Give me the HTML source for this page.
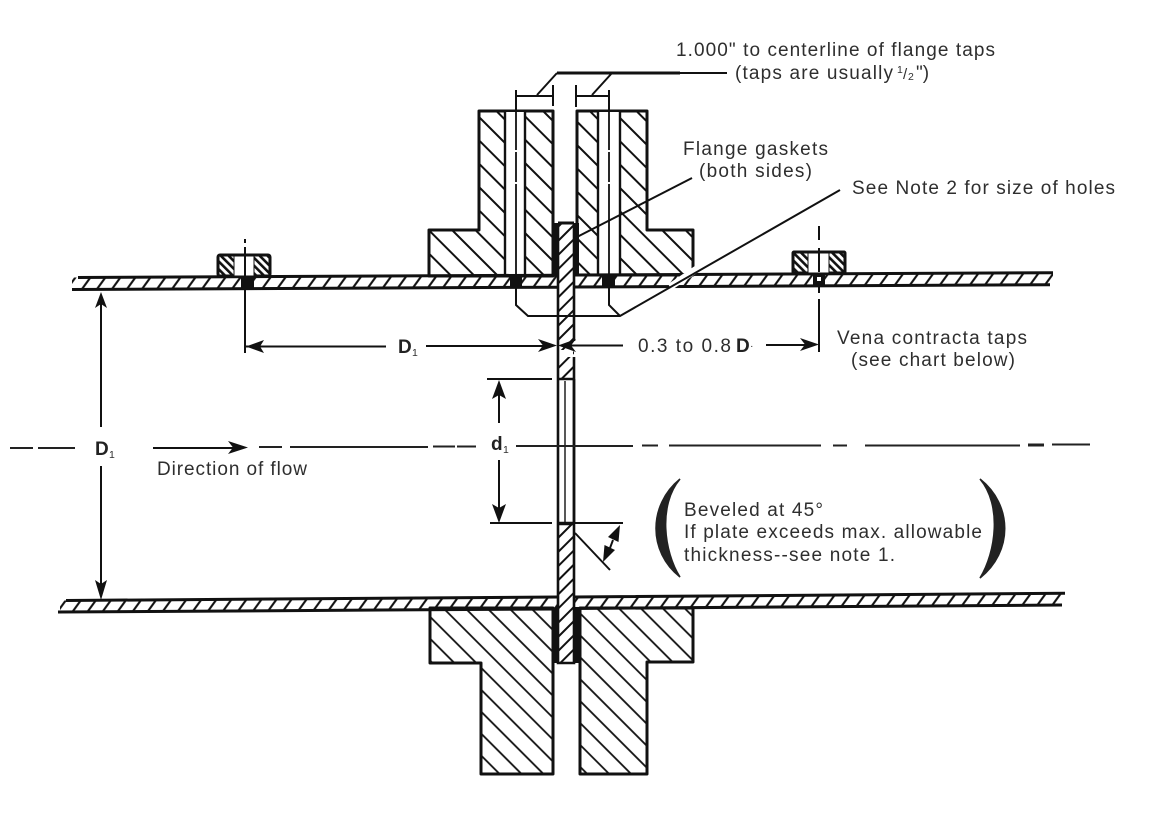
<!DOCTYPE html>
<html><head><meta charset="utf-8"><style>
html,body{margin:0;padding:0;background:#fff;width:1149px;height:814px;overflow:hidden}
svg{display:block}
text{font-family:"Liberation Sans",sans-serif;font-size:19px;fill:#2e2e2e}
.b{font-weight:bold;fill:#222}
.s{font-size:10.5px}
</style></head><body>
<svg width="1149" height="814" viewBox="0 0 1149 814" xmlns="http://www.w3.org/2000/svg">
<defs>
<pattern id="h1" patternUnits="userSpaceOnUse" width="16.5" height="16.5" patternTransform="rotate(45) translate(3 0)"><line x1="0" y1="8" x2="17" y2="8" stroke="#111" stroke-width="1.9"/></pattern>
<pattern id="h2" patternUnits="userSpaceOnUse" width="15.5" height="15.5" patternTransform="rotate(45)"><line x1="0" y1="8" x2="16" y2="8" stroke="#111" stroke-width="1.8"/></pattern>
<pattern id="h3" patternUnits="userSpaceOnUse" width="5.5" height="5.5" patternTransform="rotate(45)"><line x1="0" y1="2.7" x2="6" y2="2.7" stroke="#111" stroke-width="2.6"/></pattern>
<pattern id="p" patternUnits="userSpaceOnUse" width="15" height="20" patternTransform="skewX(-36)"><line x1="7" y1="0" x2="7" y2="20" stroke="#111" stroke-width="2.6"/></pattern>
<pattern id="q" patternUnits="userSpaceOnUse" width="10" height="10" patternTransform="rotate(-45)"><line x1="0" y1="5" x2="10" y2="5" stroke="#111" stroke-width="2"/></pattern>
</defs>

<!-- top flange -->
<path d="M479 111H553V276H429V230H479Z" fill="url(#h1)" stroke="#111" stroke-width="3" stroke-linejoin="round"/>
<path d="M577 111H647V230H693V275H577Z" fill="url(#h1)" stroke="#111" stroke-width="3" stroke-linejoin="round"/>
<rect x="505" y="112" width="20" height="163" fill="#fff"/>
<rect x="598" y="112" width="22" height="163" fill="#fff"/>
<g stroke="#111" stroke-width="2.4" fill="none">
<path d="M505 111V275M525 111V275M598 111V275M620 111V275"/>
</g>
<g stroke="#111" stroke-width="1.8" fill="none">
<path d="M516 111V150M516 152V182M516 184V275M609 111V150M609 152V182M609 184V275"/>
</g>

<!-- bottom flange -->
<path d="M430 608H553V774H481V663H430Z" fill="url(#h2)" stroke="#111" stroke-width="3" stroke-linejoin="round"/>
<path d="M580 608H693V662H647V774H580Z" fill="url(#h2)" stroke="#111" stroke-width="3" stroke-linejoin="round"/>

<!-- pipes -->
<polygon points="72,277.5 558,275.2 558,287.2 72,289.5" fill="url(#p)"/>
<polygon points="574,275 1053,272.7 1053,284.7 574,287" fill="url(#p)"/>
<polygon points="60,600.5 558,597 558,609 60,612" fill="url(#p)"/>
<polygon points="574,597 1065,593.3 1065,605 574,608.5" fill="url(#p)"/>
<g stroke="#111" stroke-width="3" fill="none">
<path d="M78 277.5L558 275.2M72 289.5L558 287.2"/>
<path d="M574 275L1053 272.7M574 287L1050 284.7"/>
<path d="M66 600.5L558 597M58 612L558 609"/>
<path d="M574 597L1065 593.3M574 608.5L1062 605"/>
</g>
<!-- pipe tap spots -->
<g fill="#111">
<rect x="510" y="276" width="12" height="11"/>
<rect x="602" y="276" width="13" height="11"/>
<rect x="241" y="277" width="13" height="12"/>
<rect x="813" y="274" width="12" height="11"/>
</g>
<rect x="817" y="277" width="4" height="4" fill="#fff"/>

<!-- taps -->
<rect x="218" y="255" width="52" height="21" rx="2" fill="url(#h3)" stroke="#111" stroke-width="3"/>
<rect x="234" y="256" width="20" height="20" fill="#fff" stroke="#111" stroke-width="1"/>
<rect x="793" y="252" width="52" height="21" rx="1" fill="url(#h3)" stroke="#111" stroke-width="3"/>
<rect x="808" y="253" width="21" height="20" fill="#fff" stroke="#111" stroke-width="1"/>
<g stroke="#111" stroke-width="2" fill="none">
<path d="M245 239V243M245 247V276M245 288V353"/>
<path d="M819 226V240M819 248V272M819 285V293M819 299V352"/>
</g>

<!-- plate -->
<rect x="558" y="223" width="16" height="156" fill="#fff"/>
<rect x="558" y="223" width="16" height="156" fill="url(#q)"/>
<rect x="558" y="523" width="16" height="140" fill="#fff"/>
<rect x="558" y="523" width="16" height="140" fill="url(#q)"/>
<rect x="559" y="350" width="14" height="7" fill="#fff"/>
<rect x="559" y="379" width="14" height="144" fill="#fff"/>
<g stroke="#111" fill="none">
<path d="M558 223H574" stroke-width="3"/>
<path d="M558 223V663H574V357M574 341V223" stroke-width="2.6"/>
<path d="M574 379V523M558 379H574" stroke-width="2.6"/>
<path d="M558 523.5H574" stroke-width="3.5"/>
<path d="M565 381V522" stroke-width="1.4"/>
</g>
<!-- gaskets -->
<g fill="#111">
<rect x="553" y="223" width="5" height="53"/>
<rect x="573" y="223" width="6" height="53"/>
<rect x="552" y="608" width="6" height="55"/>
<rect x="573" y="608" width="8" height="55"/>
</g>

<!-- top dimension -->
<g stroke="#111" fill="none">
<path d="M557 73H680" stroke-width="3"/>
<path d="M680 73H727" stroke-width="2"/>
<path d="M557 73L537 95M612 73L592 95" stroke-width="2"/>
<path d="M516 96H553M576 96H609" stroke-width="2"/>
<path d="M516 90V111M553 85V106M576 85V107M609 90V111" stroke-width="2"/>
</g>

<!-- leaders -->
<path d="M670 287L704 264" stroke="#fff" stroke-width="7" fill="none"/>
<g stroke="#111" stroke-width="2" fill="none">
<path d="M575 238L692 178"/>
<path d="M516 287V305L528 316H620L840 190M609 287V305L620 316"/>
</g>

<!-- dimension lines -->
<g stroke="#111" stroke-width="2" fill="none">
<path d="M245 346.5H386M426 346H545M568 345.5H623M766 345H805"/>
<path d="M101 300V427M101 466V588"/>
<path d="M487 379H552M490 523H552M573 523H623"/>
<path d="M499 392V423M499 460V510"/>
<path d="M575 533L610 570"/>
<path d="M613 540L610 548"/>
<path d="M153 448H235"/>
</g>
<!-- centre line -->
<g stroke="#222" stroke-width="2" fill="none">
<path d="M10 448H33M38 448H75"/>
<path d="M259 447H282M290 447H428M433 446.5H455M457 446.5H476"/>
<path d="M516 446H633M642 445.5H658M669 445.5H821M833 445.5H847M865 445.5H1020"/>
<path d="M1028 445H1044" stroke-width="3"/>
<path d="M1052 444.5H1090"/>
</g>

<!-- arrowheads -->
<g fill="#111">
<polygon points="246,346.5 264,340 260,346.5 264,353"/>
<polygon points="557,345.5 538,339 543,345.5 538,352"/>
<polygon points="558,345.5 576,339 571,345.5 576,352"/>
<polygon points="819,344.5 800,338 805,344.5 800,351"/>
<polygon points="101,292 107,308 101,304 95,308"/>
<polygon points="101,600 107,580 101,584 95,580"/>
<polygon points="499,380 506,399 499,395 492,399"/>
<polygon points="499,523 506,504 499,508 492,504"/>
<polygon points="248,447.5 228,441 233,447.5 228,454"/>
<polygon points="620,525 618.5,542 608,537"/>
<polygon points="603,562 615,550 604.5,545"/>
</g>

<!-- parens -->
<path d="M680 479C648 505 648 552 680 577C664 552 658 505 680 479Z" fill="#222" stroke="#222" stroke-width="1.5"/>
<path d="M980 479C1013 505 1013 552 980 578C996 552 1002 505 980 479Z" fill="#222" stroke="#222" stroke-width="1.5"/>

<!-- labels -->
<text x="676" y="56" textLength="319" lengthAdjust="spacing">1.000" to centerline of flange taps</text>
<text x="735" y="79" textLength="158" lengthAdjust="spacing">(taps are usually</text>
<text x="897" y="73" class="s">1</text>
<text x="903" y="79" style="font-size:15px">/</text>
<text x="908" y="80" class="s">2</text>
<text x="916" y="79">")</text>
<text x="683" y="155" textLength="145" lengthAdjust="spacing">Flange gaskets</text>
<text x="699" y="177" textLength="113" lengthAdjust="spacing">(both sides)</text>
<text x="852" y="194" textLength="263" lengthAdjust="spacing">See Note 2 for size of holes</text>
<text x="837" y="344" textLength="190" lengthAdjust="spacing">Vena contracta taps</text>
<text x="851" y="366" textLength="164" lengthAdjust="spacing">(see chart below)</text>
<text x="684" y="516" textLength="139" lengthAdjust="spacing">Beveled at 45°</text>
<text x="684" y="538" textLength="298" lengthAdjust="spacing">If plate exceeds max. allowable</text>
<text x="684" y="561" textLength="211" lengthAdjust="spacing">thickness--see note 1.</text>
<text x="157" y="475" textLength="150" lengthAdjust="spacing">Direction of flow</text>
<text x="638" y="352" textLength="93" lengthAdjust="spacing">0.3 to 0.8</text>
<text x="736" y="352" class="b">D</text>
<text x="750" y="349" class="s">·</text>
<text x="398" y="353" class="b">D</text><text x="412" y="356" class="s">1</text>
<text x="95" y="455" class="b">D</text><text x="109" y="458" class="s">1</text>
<text x="491" y="450" class="b">d</text><text x="503" y="453" class="s">1</text>
</svg>
</body></html>
